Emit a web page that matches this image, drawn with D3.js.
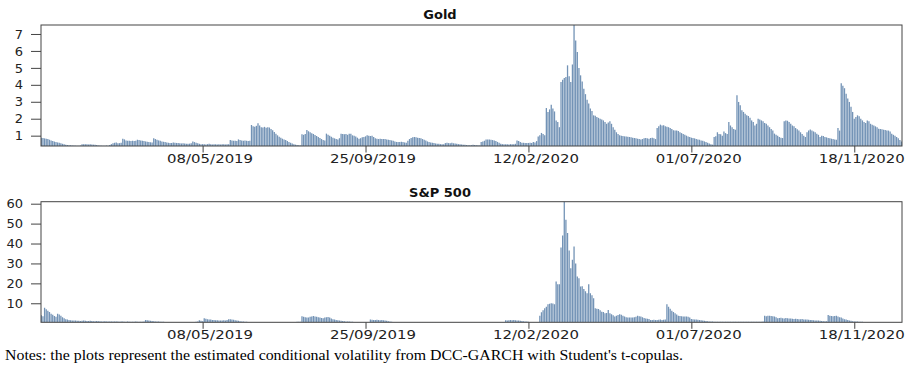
<!DOCTYPE html>
<html>
<head>
<meta charset="utf-8">
<script src="https://cdn.jsdelivr.net/npm/d3@7"></script>
<style>
  body { margin: 0; background: #fff; }
  svg { display: block; }
</style>
</head>
<body>
<svg id="chart" width="912" height="366"></svg>
<script>
// Daily conditional volatility, observation 1..529
const goldVol = [
  0.88,0.86,0.84,0.82,0.80,0.76,0.72,0.68,0.65,0.62,
  0.60,0.58,0.55,0.52,0.50,0.47,0.45,0.44,0.43,0.42,
  0.42,0.41,0.41,0.41,0.42,0.50,0.50,0.49,0.50,0.48,
  0.49,0.48,0.47,0.46,0.45,0.42,0.42,0.41,0.41,0.41,
  0.42,0.41,0.45,0.50,0.55,0.58,0.60,0.55,0.56,0.58,
  0.82,0.78,0.72,0.70,0.70,0.68,0.70,0.68,0.70,0.76,
  0.74,0.72,0.70,0.68,0.66,0.64,0.62,0.61,0.60,0.84,
  0.80,0.76,0.72,0.70,0.66,0.64,0.62,0.60,0.58,0.56,
  0.56,0.60,0.58,0.57,0.56,0.55,0.54,0.55,0.54,0.53,
  0.52,0.53,0.55,0.66,0.62,0.58,0.55,0.52,0.50,0.50,
  0.49,0.48,0.50,0.52,0.50,0.48,0.50,0.49,0.48,0.50,
  0.48,0.49,0.50,0.48,0.50,0.49,0.75,0.72,0.70,0.70,
  0.68,0.78,0.74,0.72,0.70,0.72,0.70,0.69,0.70,1.63,
  1.55,1.52,1.58,1.73,1.60,1.50,1.48,1.52,1.46,1.50,
  1.48,1.40,1.32,1.22,1.12,1.02,0.94,0.88,0.82,0.78,
  0.74,0.68,0.62,0.58,0.54,0.50,0.47,0.45,0.43,0.42,
  1.08,1.05,1.10,1.33,1.26,1.20,1.14,1.10,1.04,0.98,
  0.92,0.86,0.80,0.75,0.72,1.12,1.06,1.00,0.94,0.88,
  0.84,0.80,0.78,0.85,1.12,1.10,1.08,1.10,1.05,1.12,
  1.12,1.02,1.00,0.95,0.88,0.82,0.85,0.90,0.92,0.96,
  1.02,1.00,0.98,1.00,0.92,0.85,0.82,0.80,0.82,0.80,
  0.80,0.80,0.78,0.76,0.74,0.72,0.70,0.66,0.63,0.62,
  0.62,0.64,0.62,0.60,0.58,0.70,0.80,0.86,0.90,0.92,
  0.90,0.88,0.86,0.84,0.80,0.76,0.72,0.66,0.62,0.60,
  0.58,0.56,0.54,0.53,0.52,0.50,0.50,0.49,0.56,0.58,
  0.56,0.55,0.58,0.55,0.54,0.52,0.50,0.49,0.48,0.47,
  0.46,0.45,0.44,0.43,0.44,0.46,0.45,0.44,0.43,0.42,
  0.63,0.66,0.70,0.78,0.78,0.77,0.76,0.74,0.72,0.68,
  0.63,0.58,0.52,0.50,0.50,0.49,0.50,0.48,0.50,0.49,
  0.50,0.52,0.72,0.68,0.62,0.58,0.58,0.57,0.56,0.57,
  0.58,0.56,0.62,0.60,0.68,0.95,1.02,1.16,1.10,1.02,
  2.63,2.40,2.55,2.83,2.60,2.43,1.90,1.80,1.50,4.17,
  4.30,4.40,4.46,5.15,4.50,4.17,5.20,7.80,6.62,5.94,
  5.00,4.56,4.20,3.77,3.45,3.12,2.90,2.60,2.45,2.20,
  2.18,2.10,2.05,2.00,1.96,1.90,1.80,1.70,1.78,1.85,
  1.70,1.50,1.35,1.20,1.10,1.02,1.00,0.98,0.96,0.95,
  0.94,0.92,0.90,0.88,0.86,0.84,0.82,0.80,0.78,0.80,
  0.84,0.86,0.84,0.82,0.86,0.88,0.84,0.80,1.45,1.55,
  1.65,1.60,1.62,1.56,1.52,1.50,1.45,1.40,1.32,1.30,
  1.30,1.28,1.20,1.15,1.10,1.05,1.00,0.95,0.92,0.88,
  0.86,0.84,0.80,0.78,0.76,0.72,0.70,0.66,0.62,0.58,
  0.54,0.50,0.47,0.92,0.96,1.20,1.10,1.08,1.00,1.25,
  1.15,1.10,1.80,1.60,1.50,1.40,1.35,3.38,2.99,2.80,
  2.50,2.40,2.30,2.20,2.16,2.05,1.90,1.80,1.60,1.70,
  2.00,1.95,1.90,1.85,1.75,1.70,1.60,1.50,1.40,1.30,
  1.12,1.05,1.00,0.92,0.88,0.86,1.85,1.90,1.88,1.80,
  1.70,1.60,1.55,1.45,1.38,1.30,1.20,1.10,1.00,0.92,
  1.20,1.30,1.37,1.30,1.25,1.20,1.12,1.05,0.92,1.00,
  0.98,0.92,0.90,0.86,0.84,0.82,0.80,0.78,0.76,1.45,
  1.30,4.10,3.95,3.80,3.48,3.20,2.99,2.70,2.40,2.00,
  2.10,2.20,2.15,2.00,1.90,1.80,1.75,1.90,1.85,1.70,
  1.65,1.60,1.55,1.50,1.41,1.40,1.38,1.35,1.33,1.30,
  1.30,1.25,1.12,1.05,1.00,0.92,0.85,0.75,0.65
];

const spVol = [
  4.0,3.5,7.7,7.0,6.3,5.6,4.8,4.2,3.6,3.2,
  4.8,4.4,3.8,3.0,2.5,2.0,1.8,1.6,1.5,1.4,
  1.3,1.3,1.2,1.2,1.1,1.2,1.3,1.2,1.1,1.1,
  1.2,1.1,1.0,1.0,1.1,1.0,1.0,0.9,0.9,1.0,
  0.9,0.9,0.8,0.8,0.9,0.8,0.8,0.8,0.7,0.8,
  0.8,0.7,0.7,0.8,0.7,0.7,0.7,0.7,0.8,0.7,
  0.7,0.7,0.7,0.8,1.6,1.5,1.3,1.2,1.1,1.0,
  0.9,0.8,0.8,0.7,0.7,0.7,0.6,0.6,0.6,0.6,
  0.6,0.6,0.6,0.6,0.6,0.6,0.6,0.6,0.6,0.6,
  0.6,0.6,0.6,0.6,0.6,0.7,0.8,1.5,1.2,1.0,
  2.5,2.2,2.0,1.9,1.8,1.6,1.6,1.5,1.5,1.4,
  1.4,1.4,1.5,1.4,1.6,2.0,2.0,1.8,1.7,1.5,
  1.4,1.2,1.0,0.9,0.8,0.7,0.7,0.6,0.6,0.6,
  0.6,0.6,0.6,0.6,0.6,0.6,0.6,0.6,0.6,0.6,
  0.6,0.6,0.6,0.6,0.6,0.6,0.6,0.6,0.6,0.6,
  0.6,0.6,0.6,0.6,0.6,0.6,0.6,0.7,0.7,0.7,
  3.5,3.2,3.0,2.8,2.9,3.2,3.4,3.6,3.4,3.2,
  3.0,2.9,2.6,2.5,2.8,3.0,3.1,2.8,2.4,2.0,
  1.8,1.6,1.5,1.3,1.2,1.1,1.0,0.9,0.8,0.8,
  0.7,0.7,0.6,0.6,0.6,0.6,0.6,0.6,0.6,0.6,
  0.6,0.6,1.8,1.7,1.6,1.6,1.7,1.6,1.5,1.6,
  1.5,1.4,1.2,1.0,0.8,0.7,0.6,0.6,0.6,0.6,
  0.6,0.6,0.6,0.6,0.6,0.6,0.6,0.6,0.6,0.6,
  0.6,0.6,0.6,0.6,0.6,0.6,0.6,0.6,0.6,0.6,
  0.6,0.6,0.6,0.6,0.6,0.6,0.6,0.6,0.6,0.6,
  0.6,0.6,0.6,0.6,0.6,0.6,0.6,0.6,0.6,0.6,
  0.6,0.6,0.6,0.6,0.6,0.6,0.6,0.6,0.6,0.6,
  0.6,0.6,0.6,0.6,0.6,0.6,0.6,0.6,0.6,0.6,
  0.6,0.6,0.6,0.6,0.6,1.5,1.4,1.5,1.6,1.5,
  1.6,1.5,1.4,1.3,1.2,1.1,1.0,0.9,0.8,0.7,
  0.6,0.6,0.6,0.6,0.6,0.6,3.8,5.5,6.5,7.5,
  8.2,9.5,9.8,10.0,9.9,9.5,20.9,19.6,19.5,38.0,
  44.0,62.0,52.0,45.3,36.5,27.6,31.8,38.5,30.0,23.4,
  22.6,18.4,18.6,17.2,16.0,15.0,19.6,15.0,14.0,12.5,
  7.5,7.3,7.1,6.5,5.8,5.6,5.0,5.1,6.6,5.0,
  4.5,4.0,3.3,3.8,4.1,4.5,4.3,3.8,3.3,3.0,
  2.9,2.8,2.8,2.9,3.0,3.2,3.8,3.5,3.3,3.0,
  2.6,2.4,2.2,2.1,1.6,1.6,1.7,1.6,1.6,1.7,
  1.8,1.6,1.7,1.8,9.5,8.3,7.3,6.2,5.6,5.0,
  4.4,3.8,3.6,3.5,3.4,3.3,3.4,3.2,2.8,2.1,
  2.0,1.9,1.8,1.7,1.6,1.5,1.3,1.2,1.1,1.0,
  0.9,0.8,0.8,0.7,0.7,0.7,0.7,0.7,0.7,0.7,
  0.7,0.7,0.7,0.7,0.7,0.7,0.7,0.7,0.7,0.7,
  0.7,0.7,0.7,0.7,0.7,0.7,0.7,0.7,0.7,0.7,
  0.7,0.7,0.7,0.8,3.8,3.5,3.7,3.8,3.6,3.5,
  3.4,3.0,2.5,2.6,2.7,2.5,2.4,2.6,2.5,2.4,
  2.3,2.2,2.1,2.2,2.1,2.0,2.0,2.1,1.9,1.8,
  1.8,1.7,1.6,1.6,1.5,1.4,1.4,1.3,1.2,1.1,
  1.0,1.0,1.0,4.1,3.8,3.6,3.5,3.6,3.8,3.4,
  3.0,2.8,2.4,2.0,1.8,1.6,1.4,1.2,1.0,0.9,
  0.8,0.8,0.7,0.7,0.7,0.6,0.6,0.6,0.6,0.6,
  0.6,0.6,0.6,0.6,0.6,0.6,0.6,0.6,0.6,0.6,
  0.6,0.6,0.6,0.6,0.6,0.6,0.6,0.6,0.6
];

// Date labels placed at every 100th observation
const tickIndex = [100, 200, 300, 400, 500];
const tickLabels = ["08/05/2019", "25/09/2019", "12/02/2020", "01/07/2020", "18/11/2020"];
const goldTicks = [1, 2, 3, 4, 5, 6, 7];
const spTicks = [10, 20, 30, 40, 50, 60];

const noteText = "Notes: the plots represent the estimated conditional volatility from DCC-GARCH with Student's t-copulas.";

const svg = d3.select("#chart");
const left = 41, right = 902;

const x = d3.scaleLinear().domain([0.8, 529.3]).range([left, right]);

const panels = [
  { id: "gold", title: "Gold", values: goldVol, ticks: goldTicks, domain: [0.39, 7.53], top: 25, bottom: 146, titleY: 18.5 },
  { id: "sp", title: "S&P 500", values: spVol, ticks: spTicks, domain: [0.45, 61.0], top: 201.7, bottom: 322.3, titleY: 196.7 }
];

const barColor = "#7393b6";
const axisColor = "#444";
const sans = "'DejaVu Sans', Verdana, sans-serif";

panels.forEach(p => {
  const y = d3.scaleLinear().domain(p.domain).range([p.bottom, p.top]);
  const g = svg.append("g");

  g.append("clipPath").attr("id", "clip-" + p.id)
    .append("rect")
    .attr("x", left).attr("y", p.top)
    .attr("width", right - left).attr("height", p.bottom - p.top);

  // vertical bars from the baseline to each day's volatility
  g.append("g").attr("clip-path", `url(#clip-${p.id})`)
    .selectAll("line")
    .data(p.values)
    .join("line")
    .attr("x1", (d, i) => x(i + 1))
    .attr("x2", (d, i) => x(i + 1))
    .attr("y1", y(p.domain[0]))
    .attr("y2", d => y(d))
    .attr("stroke", barColor)
    .attr("stroke-width", 1.3);

  // frame
  g.append("rect")
    .attr("x", left).attr("y", p.top)
    .attr("width", right - left).attr("height", p.bottom - p.top)
    .attr("fill", "none")
    .attr("stroke", axisColor)
    .attr("stroke-width", 1);

  // y axis
  const yAxis = g.append("g")
    .attr("transform", `translate(${left},0)`)
    .call(d3.axisLeft(y).tickValues(p.ticks).tickSize(10).tickSizeOuter(0).tickPadding(8));
  yAxis.select(".domain").remove();
  yAxis.selectAll(".tick line").attr("stroke", axisColor);
  yAxis.selectAll(".tick text")
    .attr("font-family", sans)
    .attr("font-size", 13)
    .attr("fill", "#222");

  // x axis with date labels
  const xAxis = g.append("g")
    .attr("transform", `translate(0,${p.bottom})`)
    .call(d3.axisBottom(x).tickValues(tickIndex)
      .tickFormat((d, i) => tickLabels[i])
      .tickSize(6.5).tickSizeOuter(0));
  xAxis.select(".domain").remove();
  xAxis.selectAll(".tick line").attr("stroke", axisColor);
  xAxis.selectAll(".tick text")
    .attr("font-family", sans)
    .attr("font-size", 12.5)
    .attr("fill", "#222")
    .attr("y", 17)
    .attr("dy", 0)
    .attr("dx", 7)
    .attr("textLength", 86)
    .attr("lengthAdjust", "spacingAndGlyphs");

  // panel title
  g.append("text")
    .attr("x", 440)
    .attr("y", p.titleY)
    .attr("text-anchor", "middle")
    .attr("font-family", sans)
    .attr("font-weight", "bold")
    .attr("font-size", 13)
    .attr("fill", "#111")
    .text(p.title);
});

svg.append("text")
  .attr("x", 5)
  .attr("y", 360)
  .attr("font-family", "'Liberation Serif', 'Times New Roman', serif")
  .attr("font-size", 14)
  .attr("fill", "#000")
  .attr("textLength", 678)
  .attr("lengthAdjust", "spacingAndGlyphs")
  .text(noteText);
</script>
</body>
</html>
